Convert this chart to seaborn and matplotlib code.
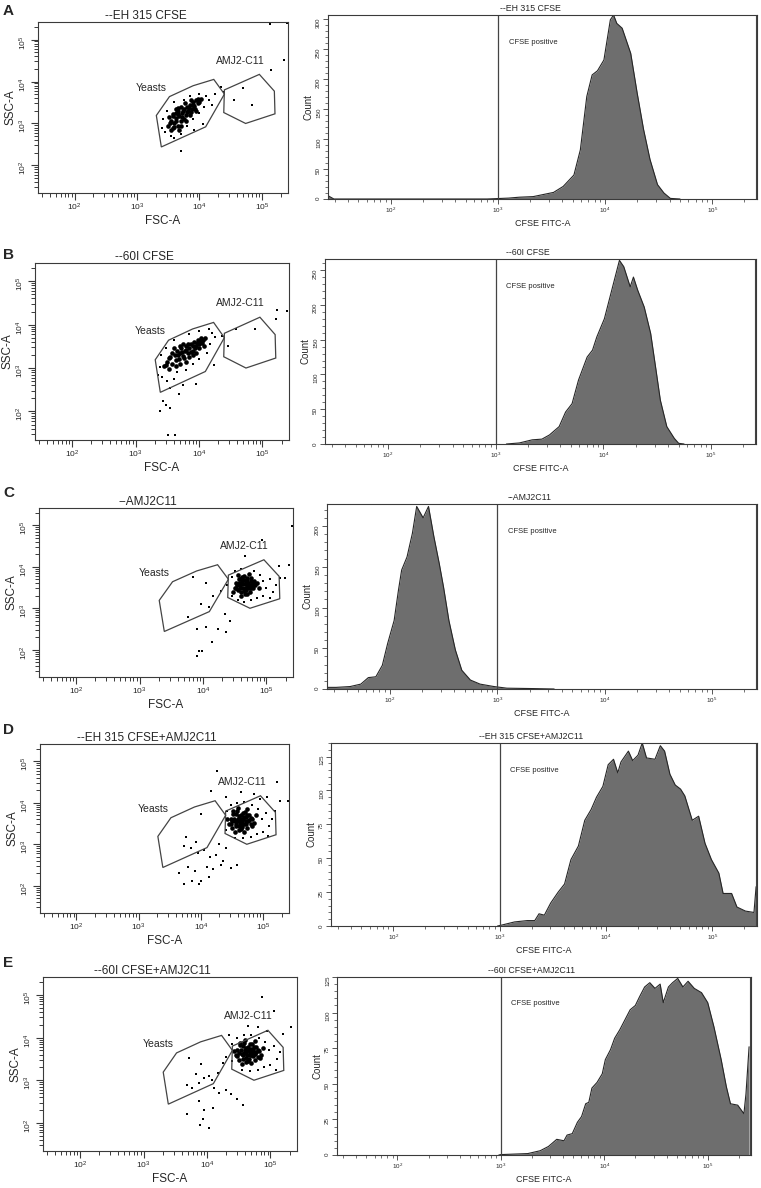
import matplotlib
matplotlib.use("Agg")
import matplotlib.pyplot as plt
import matplotlib.ticker as mticker
from matplotlib.patches import Polygon
import seaborn as sns
import numpy as np
import pandas as pd

sns.set_style("ticks")
plt.rcParams["font.family"] = ["Liberation Sans", "DejaVu Sans"]
plt.rcParams["mathtext.fontset"] = "custom"
plt.rcParams["mathtext.rm"] = "Liberation Sans"
plt.rcParams["mathtext.it"] = "Liberation Sans:italic"

# ---------------- data (log10 units) ----------------
panel_letters = ["A", "B", "C", "D", "E"]
sample_names = ["--EH 315 CFSE", "--60I CFSE", "--AMJ2C11",
                "--EH 315 CFSE+AMJ2C11", "--60I CFSE+AMJ2C11"]

# gates on FSC-A / SSC-A (log10 coordinates)
yeast_gate = [(3.31, 3.19), (3.39, 2.44), (4.10, 2.92), (4.40, 3.70),
              (4.23, 4.05), (3.90, 3.90), (3.52, 3.64)]
amj_gate = [(4.40, 3.80), (4.96, 4.17), (5.20, 3.77), (5.21, 3.23),
            (4.74, 3.00), (4.39, 3.26)]

# dense core of each dot plot
a_core = [(3.50, 2.95), (3.55, 3.05), (3.52, 3.15), (3.58, 2.90), (3.60, 3.00), (3.62, 3.12),
          (3.58, 3.22), (3.65, 3.30), (3.68, 3.18), (3.70, 3.05), (3.72, 3.25), (3.75, 3.35),
          (3.78, 3.20), (3.80, 3.40), (3.82, 3.30), (3.85, 3.45), (3.88, 3.35), (3.90, 3.50),
          (3.92, 3.42), (3.95, 3.55), (3.98, 3.48), (4.02, 3.58), (3.65, 2.95), (3.75, 3.10),
          (3.85, 3.20), (3.70, 3.40), (3.62, 3.35), (3.55, 2.85), (3.68, 2.85), (3.95, 3.30),
          (3.53, 3.00), (3.57, 3.18), (3.63, 3.05), (3.66, 3.22), (3.72, 3.15), (3.74, 3.30),
          (3.78, 3.05), (3.80, 3.28), (3.83, 3.38), (3.87, 3.28), (3.90, 3.45), (3.93, 3.35),
          (3.97, 3.58), (4.00, 3.50), (3.60, 2.92), (3.70, 2.95), (3.66, 3.38), (3.77, 3.48),
          (3.87, 3.55), (3.62, 3.25)]
b_core = [(3.45, 3.05), (3.50, 3.15), (3.55, 3.25), (3.58, 3.10), (3.62, 3.30), (3.65, 3.40),
          (3.68, 3.20), (3.70, 3.35), (3.72, 3.45), (3.75, 3.28), (3.78, 3.40), (3.80, 3.50),
          (3.82, 3.35), (3.85, 3.45), (3.88, 3.55), (3.90, 3.40), (3.92, 3.60), (3.95, 3.50),
          (3.98, 3.65), (4.00, 3.55), (4.03, 3.68), (4.05, 3.58), (4.10, 3.70), (3.60, 3.45),
          (3.75, 3.55), (3.70, 3.10), (3.85, 3.25), (3.95, 3.35), (4.08, 3.50), (3.52, 2.98),
          (3.48, 3.08), (3.53, 3.22), (3.57, 3.35), (3.63, 3.18), (3.67, 3.30), (3.73, 3.38),
          (3.77, 3.22), (3.80, 3.42), (3.83, 3.55), (3.87, 3.38), (3.90, 3.50), (3.93, 3.45),
          (3.97, 3.58), (4.02, 3.62), (4.06, 3.65), (3.64, 3.05), (3.80, 3.15), (3.90, 3.30),
          (4.00, 3.45), (3.70, 3.50)]
c_core = [(4.50, 3.50), (4.52, 3.62), (4.55, 3.45), (4.56, 3.70), (4.58, 3.55), (4.60, 3.40),
          (4.62, 3.65), (4.63, 3.50), (4.65, 3.78), (4.66, 3.58), (4.68, 3.45), (4.70, 3.68),
          (4.72, 3.55), (4.74, 3.40), (4.75, 3.72), (4.77, 3.60), (4.79, 3.48), (4.80, 3.66),
          (4.82, 3.55), (4.85, 3.62), (4.60, 3.30), (4.70, 3.35), (4.55, 3.80), (4.72, 3.82),
          (4.62, 3.75), (4.48, 3.40), (4.88, 3.48), (4.67, 3.50), (4.53, 3.55), (4.57, 3.62),
          (4.59, 3.48), (4.61, 3.58), (4.64, 3.42), (4.64, 3.68), (4.67, 3.62), (4.69, 3.52),
          (4.71, 3.62), (4.73, 3.48), (4.76, 3.66), (4.78, 3.54), (4.81, 3.60), (4.69, 3.74),
          (4.58, 3.70), (4.75, 3.50), (4.52, 3.48), (4.66, 3.35)]
d_core = [(4.45, 3.50), (4.48, 3.62), (4.50, 3.40), (4.52, 3.72), (4.55, 3.55), (4.57, 3.45),
          (4.58, 3.80), (4.60, 3.62), (4.62, 3.35), (4.63, 3.52), (4.65, 3.70), (4.66, 3.42),
          (4.68, 3.60), (4.70, 3.50), (4.71, 3.78), (4.73, 3.65), (4.75, 3.40), (4.76, 3.55),
          (4.78, 3.70), (4.80, 3.48), (4.82, 3.60), (4.85, 3.52), (4.55, 3.30), (4.70, 3.30),
          (4.60, 3.88), (4.75, 3.85), (4.88, 3.70), (4.42, 3.60), (4.67, 3.55), (4.62, 3.58),
          (4.50, 3.55), (4.54, 3.62), (4.57, 3.50), (4.59, 3.56), (4.62, 3.45), (4.62, 3.68),
          (4.65, 3.62), (4.67, 3.50), (4.69, 3.65), (4.72, 3.48), (4.74, 3.70), (4.77, 3.58),
          (4.80, 3.64), (4.68, 3.76), (4.56, 3.72), (4.73, 3.55), (4.48, 3.48), (4.64, 3.36),
          (4.83, 3.45), (4.52, 3.80)]
e_core = [(4.45, 3.60), (4.48, 3.72), (4.50, 3.48), (4.52, 3.82), (4.55, 3.62), (4.57, 3.50),
          (4.58, 3.88), (4.60, 3.70), (4.62, 3.42), (4.63, 3.60), (4.65, 3.78), (4.66, 3.50),
          (4.68, 3.68), (4.70, 3.58), (4.71, 3.86), (4.73, 3.72), (4.75, 3.48), (4.76, 3.62),
          (4.78, 3.78), (4.80, 3.55), (4.82, 3.68), (4.85, 3.60), (4.55, 3.38), (4.70, 3.40),
          (4.60, 3.95), (4.75, 3.92), (4.88, 3.75), (4.42, 3.68), (4.67, 3.64), (4.62, 3.66),
          (4.50, 3.63), (4.54, 3.70), (4.57, 3.58), (4.59, 3.64), (4.62, 3.53), (4.62, 3.76),
          (4.65, 3.70), (4.67, 3.58), (4.69, 3.73), (4.72, 3.56), (4.74, 3.78), (4.77, 3.66),
          (4.80, 3.72), (4.68, 3.84), (4.56, 3.80), (4.73, 3.63), (4.48, 3.56), (4.64, 3.44),
          (4.83, 3.53), (4.52, 3.88)]

# scattered single events
a_sparse = [(3.42, 3.10), (3.45, 2.80), (3.48, 3.30), (3.55, 2.70), (3.60, 2.65), (3.70, 2.75),
            (3.80, 2.95), (3.90, 3.10), (4.00, 3.25), (4.08, 3.40), (4.10, 3.65), (4.15, 3.55),
            (4.00, 3.70), (3.85, 3.65), (3.75, 3.55), (3.60, 3.50), (4.05, 2.98), (4.20, 3.45),
            (4.25, 3.70), (3.70, 2.34), (3.40, 2.90), (3.92, 2.85), (4.35, 3.87), (4.55, 3.55),
            (4.70, 3.85), (4.85, 3.45), (5.14, 4.27), (5.35, 4.52), (5.13, 5.36), (5.41, 5.40),
            (4.40, 3.75)]
b_sparse = [(3.38, 3.03), (3.35, 2.85), (3.42, 2.80), (3.50, 2.70), (3.60, 2.75), (3.55, 2.55),
            (3.65, 2.90), (3.75, 2.60), (3.80, 2.95), (3.90, 3.10), (4.00, 3.20), (4.12, 3.35),
            (4.18, 3.55), (4.20, 3.80), (4.25, 3.72), (4.15, 3.90), (4.00, 3.85), (3.85, 3.78),
            (3.60, 3.65), (3.48, 3.45), (3.40, 3.30), (3.68, 2.40), (3.96, 2.63), (4.24, 3.07),
            (3.43, 2.24), (3.54, 2.08), (3.38, 2.00), (3.48, 2.15), (3.51, 1.46), (3.62, 1.45),
            (4.37, 3.74), (4.58, 3.90), (4.89, 3.90), (5.23, 4.33), (5.39, 4.31), (5.21, 4.13),
            (4.45, 3.50)]
c_sparse = [(4.45, 3.30), (4.45, 3.75), (4.50, 3.90), (4.60, 3.95), (4.80, 3.90), (4.90, 3.80),
            (4.95, 3.65), (5.00, 3.50), (5.05, 3.70), (5.10, 3.40), (5.15, 3.55), (5.22, 3.73),
            (4.95, 3.30), (4.85, 3.25), (4.75, 3.20), (4.65, 3.15), (4.55, 3.20), (5.05, 3.25),
            (4.93, 4.64), (4.66, 4.25), (5.40, 4.98), (5.19, 4.03), (5.35, 4.05), (5.30, 3.73),
            (4.15, 3.29), (3.97, 3.10), (4.10, 3.02), (3.76, 2.78), (3.91, 2.50), (4.05, 2.54),
            (4.23, 2.50), (4.37, 2.42), (4.14, 2.18), (3.99, 1.98), (3.94, 1.98), (3.90, 1.84),
            (4.34, 2.86), (4.42, 2.70), (4.29, 3.41), (4.38, 3.55), (4.05, 3.60), (3.85, 3.75)]
d_sparse = [(4.40, 3.35), (4.42, 3.80), (4.48, 3.95), (4.58, 4.00), (4.70, 4.02), (4.82, 3.95),
            (4.92, 3.85), (4.98, 3.62), (5.05, 3.75), (5.10, 3.45), (5.15, 3.60), (5.20, 3.80),
            (5.00, 3.30), (4.90, 3.25), (4.80, 3.18), (4.68, 3.15), (4.55, 3.15), (5.08, 3.20),
            (4.95, 4.10), (4.26, 4.76), (5.22, 4.50), (4.17, 4.29), (4.64, 4.25), (4.85, 4.21),
            (5.06, 4.13), (5.28, 4.05), (5.41, 4.05), (4.40, 4.15), (3.73, 2.95), (3.85, 2.90),
            (3.95, 2.80), (4.05, 2.85), (4.15, 2.70), (4.25, 2.75), (4.35, 2.60), (4.58, 2.51),
            (3.73, 2.04), (3.86, 2.12), (4.00, 2.12), (4.13, 2.20), (3.97, 2.04), (4.32, 2.51),
            (4.48, 2.43), (3.76, 3.18), (4.00, 3.74), (3.80, 2.45), (3.90, 2.35), (4.10, 2.45),
            (4.20, 2.40), (3.65, 2.30), (4.30, 3.00), (4.40, 2.90), (3.92, 3.05)]
e_sparse = [(4.40, 3.45), (4.40, 3.85), (4.48, 4.00), (4.58, 4.05), (4.70, 4.05), (4.82, 4.00),
            (4.92, 3.90), (4.98, 3.70), (5.05, 3.80), (5.10, 3.50), (5.15, 3.65), (5.00, 3.35),
            (4.90, 3.30), (4.80, 3.25), (4.68, 3.22), (4.55, 3.25), (5.08, 3.25), (4.95, 4.15),
            (4.87, 4.95), (5.06, 4.63), (4.64, 4.28), (4.80, 4.24), (5.33, 4.24), (5.20, 4.08),
            (4.35, 4.05), (3.69, 2.90), (4.17, 3.18), (3.72, 3.53), (3.90, 3.37), (4.03, 3.10),
            (3.88, 2.94), (3.77, 2.82), (3.95, 3.05), (4.08, 3.00), (3.82, 3.15), (4.11, 2.82),
            (4.19, 2.71), (4.38, 2.67), (4.48, 2.55), (4.56, 2.43), (3.95, 2.31), (4.09, 2.35),
            (3.68, 2.22), (3.94, 2.10), (3.89, 1.96), (4.03, 1.88), (3.88, 2.51), (4.30, 2.78),
            (4.25, 3.40), (4.30, 3.55)]

# CFSE histograms: log10 FITC value and count
a_hist_log = [1.42, 1.44, 1.47, 2.90, 3.10, 3.20, 3.33, 3.52, 3.61, 3.71, 3.77, 3.83, 3.88, 3.93,
              3.99, 4.05, 4.08, 4.11, 4.16, 4.24, 4.30, 4.36, 4.42, 4.49, 4.55, 4.61, 4.70]
a_hist_cnt = [5, 3, 0, 0, 1.5, 3, 4, 11, 21, 40, 82, 171, 207, 214,
              232, 299, 307, 293, 285, 243, 177, 116, 66, 24, 10, 1, 0]
b_hist_log = [3.10, 3.22, 3.34, 3.43, 3.50, 3.59, 3.65, 3.71, 3.77, 3.85, 3.90, 3.94, 4.01, 4.07,
              4.15, 4.19, 4.25, 4.28, 4.32, 4.38, 4.44, 4.49, 4.53, 4.59, 4.66, 4.70, 4.75]
b_hist_cnt = [0, 1.5, 6, 7, 13, 25, 46, 58, 92, 125, 135, 154, 180, 216,
              264, 255, 226, 240, 221, 197, 159, 106, 63, 25, 8, 1, 0]
c_hist_log = [1.42, 1.50, 1.63, 1.73, 1.80, 1.87, 1.93, 1.98, 2.04, 2.08, 2.11, 2.16, 2.21, 2.25,
              2.31, 2.36, 2.41, 2.46, 2.50, 2.55, 2.61, 2.67, 2.75, 2.84, 2.97, 3.09, 3.34, 3.53]
c_hist_cnt = [2, 2, 3, 6, 14, 15, 29, 56, 84, 121, 146, 162, 191, 224,
              210, 224, 187, 154, 125, 84, 48, 23, 11, 6, 3, 1, 0.5, 0]
d_hist_log = [2.98, 3.01, 3.14, 3.26, 3.33, 3.37, 3.42, 3.48, 3.55, 3.61, 3.67, 3.74, 3.80, 3.86,
              3.91, 3.97, 4.02, 4.07, 4.11, 4.14, 4.21, 4.25, 4.30, 4.34, 4.38, 4.46, 4.51, 4.55,
              4.60, 4.65, 4.70, 4.74, 4.81, 4.87, 4.93, 4.99, 5.06, 5.10, 5.18, 5.23, 5.31, 5.39, 5.41]
d_hist_cnt = [0, 0.5, 3, 4, 4, 9, 8, 17, 25, 31, 49, 59, 78, 86,
              95, 103, 119, 123, 113, 121, 129, 122, 126, 135, 124, 123, 133, 129,
              112, 104, 101, 96, 78, 81, 61, 49, 39, 24, 24, 14, 11, 10, 29]
e_hist_log = [2.98, 3.00, 3.26, 3.32, 3.38, 3.46, 3.54, 3.61, 3.64, 3.69, 3.74, 3.78, 3.82, 3.85,
              3.88, 3.93, 3.98, 4.01, 4.06, 4.10, 4.15, 4.20, 4.25, 4.30, 4.34, 4.39, 4.44, 4.49,
              4.54, 4.57, 4.62, 4.66, 4.71, 4.76, 4.81, 4.87, 4.94, 5.00, 5.06, 5.13, 5.18, 5.22,
              5.29, 5.35, 5.37, 5.40]
e_hist_cnt = [0, 0.3, 1, 2, 3, 6, 11, 10, 14, 15, 23, 27, 36, 37,
              47, 51, 57, 67, 74, 82, 88, 95, 102, 105, 111, 118, 121, 117,
              120, 107, 118, 121, 124, 118, 122, 117, 114, 107, 90, 67, 48, 36,
              35, 29, 43, 76]

hist_ymax = [307, 266, 227, 135, 125]
hist_ystep = [50, 50, 50, 25, 25]

cores = [a_core, b_core, c_core, d_core, e_core]
sparses = [a_sparse, b_sparse, c_sparse, d_sparse, e_sparse]
hists = [(a_hist_log, a_hist_cnt), (b_hist_log, b_hist_cnt), (c_hist_log, c_hist_cnt),
         (d_hist_log, d_hist_cnt), (e_hist_log, e_hist_cnt)]

# ---------------- layout (pixels: left, top, right, bottom) ----------------
W, H = 761, 1188
scatter_boxes = [(38, 22, 288, 193), (35, 263, 289, 440), (39, 508, 293, 677),
                 (40, 744, 289, 913), (43, 977, 297, 1151)]
hist_boxes = [(328, 15, 757, 199), (325, 259, 756, 444), (327, 504, 757, 689),
              (331, 743, 757, 926), (337, 977, 751, 1155)]
letter_tops = [4, 248, 486, 723, 956]

LO, HI = 26, 262144
SSC_LO = 22
minor_ticks = [k * 10 ** n for n in range(1, 6) for k in range(2, 10) if LO <= k * 10 ** n <= HI]
major_ticks = [1e2, 1e3, 1e4, 1e5]
major_labels = [r"$10^{2}$", r"$10^{3}$", r"$10^{4}$", r"$10^{5}$"]
EDGE = "#3a3a3a"


def rect(box):
    l, t, r, b = box
    return [l / W, 1 - b / H, (r - l) / W, (b - t) / H]


def style_box(ax):
    for sp in ax.spines.values():
        sp.set_linewidth(0.8)
        sp.set_color(EDGE)


fig = plt.figure(figsize=(W / 100, H / 100), dpi=100)

for i in range(5):
    # ---------- dot plot ----------
    ax = fig.add_axes(rect(scatter_boxes[i]))
    core = pd.DataFrame(cores[i], columns=["fsc", "ssc"])
    sparse = pd.DataFrame(sparses[i], columns=["fsc", "ssc"])
    sns.scatterplot(x=10 ** sparse["fsc"], y=10 ** sparse["ssc"], ax=ax, s=1.0,
                    color="black", linewidth=0, marker="s")
    sns.scatterplot(x=10 ** core["fsc"], y=10 ** core["ssc"], ax=ax, s=11,
                    color="black", linewidth=0, marker="o")
    for gate in (yeast_gate, amj_gate):
        pts = [(10 ** gx, 10 ** gy) for gx, gy in gate]
        ax.add_patch(Polygon(pts, closed=True, fill=False, ec="#444444", lw=0.9))
    ax.text(10 ** 2.98, 10 ** 3.85, "Yeasts", fontsize=7.5, va="center", ha="left")
    ax.text(10 ** 4.27, 10 ** 4.50, "AMJ2-C11", fontsize=7.5, va="center", ha="left")
    ax.set_xscale("log")
    ax.set_yscale("log")
    ax.set_xlim(LO, HI)
    ax.set_ylim(SSC_LO, HI)
    ax.set_xticks(major_ticks)
    ax.set_xticklabels(major_labels)
    ax.set_yticks(major_ticks)
    ax.set_yticklabels(major_labels)
    ax.set_xticks(minor_ticks, minor=True)
    ax.set_yticks([t for t in minor_ticks if t >= SSC_LO], minor=True)
    ax.xaxis.set_minor_formatter(mticker.NullFormatter())
    ax.yaxis.set_minor_formatter(mticker.NullFormatter())
    ax.tick_params(which="major", length=5, width=0.8, labelsize=6, pad=1.5, color=EDGE)
    ax.tick_params(which="minor", length=3, width=0.7, color=EDGE)
    ax.tick_params(axis="y", labelrotation=90)
    ax.set_xlabel("FSC-A", fontsize=8.5, labelpad=1)
    ax.set_ylabel("SSC-A", fontsize=8.5, labelpad=1)
    ax.set_title(sample_names[i], fontsize=8.5, x=0.43, pad=2)
    style_box(ax)

    # ---------- CFSE histogram ----------
    hx = fig.add_axes(rect(hist_boxes[i]))
    hlog, hcnt = hists[i]
    fitc = 10 ** np.array(hlog)
    hx.fill_between(fitc, hcnt, 0, color="#6e6e6e", lw=0)
    sns.lineplot(x=fitc, y=hcnt, ax=hx, color="#262626", lw=0.8, sort=False)
    hx.axvline(1e3, color="#444444", lw=0.9)
    hx.axvline(10 ** 5.405, color="#444444", lw=0.8)
    trans = hx.get_xaxis_transform()
    hx.text(10 ** 3.10, 0.85, "CFSE positive", fontsize=5.5, transform=trans, va="center")
    hx.text(10 ** 3.30, 1.012, sample_names[i], fontsize=6.3, transform=trans,
            ha="center", va="bottom")
    hx.set_xscale("log")
    hx.set_xlim(LO, HI)
    hx.set_ylim(0, hist_ymax[i])
    hx.set_xticks(major_ticks)
    hx.set_xticklabels(major_labels)
    hx.set_xticks(minor_ticks, minor=True)
    hx.xaxis.set_minor_formatter(mticker.NullFormatter())
    hx.yaxis.set_major_locator(mticker.MultipleLocator(hist_ystep[i]))
    hx.yaxis.set_minor_locator(mticker.AutoMinorLocator(5))
    hx.tick_params(which="major", length=3.5, width=0.6, labelsize=4.5, pad=1.5, color=EDGE)
    hx.tick_params(which="minor", length=2, width=0.5, color=EDGE)
    hx.tick_params(axis="y", labelrotation=90)
    hx.set_xlabel("CFSE FITC-A", fontsize=6.5, labelpad=3)
    hx.set_ylabel("Count", fontsize=7, labelpad=2)
    style_box(hx)

    fig.text(3 / W, 1 - letter_tops[i] / H, panel_letters[i], fontsize=11,
             fontweight="bold", va="top", ha="left")

fig.savefig("out.png", dpi=100)
